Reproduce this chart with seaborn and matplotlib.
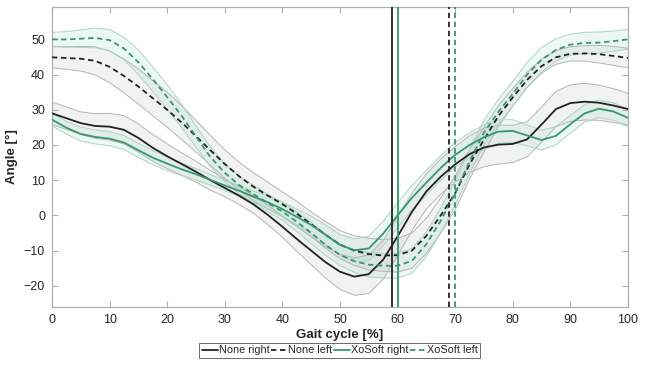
import numpy as np
import pandas as pd
import seaborn as sns
import matplotlib.pyplot as plt

# gait cycle samples (every 2.5 %)
gait = np.arange(0, 100.1, 2.5)

none_right = [29.0, 27.6, 26.2, 25.4, 25.2, 24.3, 22.0, 19.2, 16.8, 14.6, 12.4,
              10.0, 7.8, 5.6, 3.1, 0.1, -3.2, -6.7, -10.0, -13.3, -16.0, -17.4,
              -16.7, -12.6, -6.0, 1.0, 6.8, 11.0, 14.5, 17.4, 19.3, 20.1, 20.3,
              21.6, 25.8, 30.2, 31.9, 32.3, 32.0, 31.2, 30.2]
none_right_sd = [3.2, 3.2, 3.2, 3.5, 3.8, 4.0, 4.0, 3.8, 3.5, 3.2, 3.0,
                 2.8, 2.5, 2.5, 2.5, 2.8, 3.0, 3.5, 4.0, 4.5, 5.0, 5.3,
                 5.5, 5.5, 5.5, 5.3, 5.0, 5.0, 5.0, 5.2, 5.5, 5.5, 5.3,
                 5.0, 5.0, 5.0, 5.2, 5.2, 5.0, 4.8, 4.5]

none_left = [44.9, 44.7, 44.5, 43.9, 42.2, 39.6, 36.6, 33.3, 30.0, 26.4, 22.5,
             18.5, 14.6, 11.1, 8.1, 5.6, 3.2, 0.5, -2.5, -5.5, -8.3, -10.0,
             -11.0, -11.4, -11.3, -10.0, -5.8, 0.0, 6.3, 14.5, 21.5, 28.2, 33.5,
             38.5, 42.4, 44.9, 45.9, 46.0, 45.8, 45.3, 44.7]
none_left_sd = [3.0, 3.2, 3.5, 4.0, 4.5, 4.8, 5.0, 5.0, 5.0, 4.8, 4.5,
                4.2, 4.0, 4.0, 4.0, 3.8, 3.5, 3.5, 3.5, 3.8, 4.0, 4.2,
                4.5, 4.5, 4.8, 5.0, 5.0, 5.0, 4.8, 4.2, 3.5, 3.0, 2.5,
                2.2, 2.0, 2.0, 2.0, 2.2, 2.5, 2.7, 2.8]

xo_right = [27.2, 24.9, 23.1, 22.3, 21.8, 20.7, 18.5, 16.4, 14.7, 13.1, 11.7,
            10.1, 8.5, 7.0, 5.3, 3.7, 1.8, -0.4, -2.7, -5.5, -8.4, -9.9,
            -9.4, -5.2, 0.0, 5.0, 9.3, 13.5, 17.2, 20.0, 22.2, 23.8, 24.0,
            22.7, 21.4, 22.6, 25.9, 29.0, 30.3, 29.5, 27.7]
xo_right_sd = [1.8, 1.8, 2.0, 2.0, 2.0, 2.0, 2.0, 2.0, 2.0, 1.8, 1.6,
               1.5, 1.5, 1.5, 1.6, 1.8, 2.0, 2.2, 2.5, 2.8, 3.0, 3.2,
               3.5, 3.5, 3.5, 3.5, 3.5, 3.5, 3.5, 3.5, 3.5, 3.3, 3.2,
               3.0, 2.8, 2.6, 2.5, 2.5, 2.5, 2.5, 2.5]

xo_left = [50.0, 50.0, 50.2, 50.4, 49.8, 47.4, 43.5, 38.7, 33.6, 28.3, 22.4,
           16.6, 12.1, 8.6, 6.0, 3.5, 1.1, -1.8, -5.0, -8.4, -11.2, -13.0,
           -14.0, -14.3, -14.3, -12.9, -8.2, -1.5, 6.3, 15.3, 23.5, 29.4, 34.5,
           40.0, 44.2, 47.0, 48.5, 49.0, 49.1, 49.5, 50.0]
xo_left_sd = [2.0, 2.2, 2.5, 2.8, 3.0, 3.2, 3.5, 3.5, 3.5, 3.3, 3.0,
              2.8, 2.5, 2.5, 2.5, 2.5, 2.5, 2.8, 3.0, 3.0, 3.0, 3.2,
              3.5, 3.5, 3.5, 3.5, 3.5, 3.5, 3.5, 3.5, 3.5, 3.5, 3.5,
              3.5, 3.5, 3.2, 3.0, 3.0, 3.0, 2.9, 2.8]

labels = ["None right", "None left", "XoSoft right", "XoSoft left"]
# toe-off instants [%], same order as labels
toe_off = [59, 69, 60, 70]

means = [none_right, none_left, xo_right, xo_left]
sds = [none_right_sd, none_left_sd, xo_right_sd, xo_left_sd]

black = "#222222"
green = "#34996b"
colors = [black, black, green, green]
dashed = [False, True, False, True]
dash = (0, (3, 2))

df = pd.concat([pd.DataFrame({"Gait": gait, "Angle": m, "sd": s, "cond": l})
                for m, s, l in zip(means, sds, labels)], ignore_index=True)

sns.set_theme(style="white")
plt.rcParams["font.family"] = ["Liberation Sans", "DejaVu Sans"]

fig = plt.figure(figsize=(6.46, 3.68), dpi=100)
ax = fig.add_axes([0.0805, 0.166, 0.8915, 0.815])

# shaded +/- sd bands
for lab, col in zip(labels, colors):
    d = df[df.cond == lab]
    if col == black:
        face, edge, a = "#c4c4c4", "#b5b5b5", 0.22
    else:
        face, edge, a = "#a6dcc1", "#a9d6bf", 0.2
    ax.fill_between(d.Gait, d.Angle - d.sd, d.Angle + d.sd,
                    facecolor=face, alpha=a, edgecolor="none", zorder=1)
    ax.plot(d.Gait, d.Angle - d.sd, color=edge, lw=0.7, zorder=1.5)
    ax.plot(d.Gait, d.Angle + d.sd, color=edge, lw=0.7, zorder=1.5)

# mean curves
for lab, col, ds in zip(labels, colors, dashed):
    d = df[df.cond == lab]
    sns.lineplot(data=d, x="Gait", y="Angle", ax=ax, color=col, lw=1.3,
                 linestyle=dash if ds else "-", label=lab, zorder=3)

# toe-off lines
for t, col, ds in zip(toe_off, colors, dashed):
    ax.axvline(t, color=col, lw=1.3, linestyle=dash if ds else "-", zorder=3)

ax.set_xlim(0, 100)
ax.set_ylim(-26, 59.2)
ax.set_xticks(np.arange(0, 101, 10))
ax.set_yticks(np.arange(-20, 51, 10))
ax.tick_params(direction="in", length=4, width=0.8, colors="#b0b0b0",
               labelcolor="#262626", labelsize=9, top=True, right=True,
               bottom=True, left=True, pad=5)
for sp in ax.spines.values():
    sp.set_color("#b0b0b0")
    sp.set_linewidth(0.9)

ax.set_xlabel("Gait cycle [%]", fontsize=9.5, fontweight="bold",
              color="#262626", labelpad=2)
ax.set_ylabel("Angle [°]", fontsize=9.5, fontweight="bold",
              color="#262626", labelpad=4)

ax.legend_.remove()
h, l = ax.get_legend_handles_labels()
leg = fig.legend(h, l, loc="center", bbox_to_anchor=(0.526, 0.048), ncol=4,
                 fontsize=7.8, frameon=True, fancybox=False, handlelength=1.5,
                 handletextpad=0.1, columnspacing=0.1, borderpad=0.25,
                 borderaxespad=0)
leg.get_frame().set_edgecolor("#444444")
leg.get_frame().set_linewidth(0.7)

fig.savefig("out.png", dpi=100)
